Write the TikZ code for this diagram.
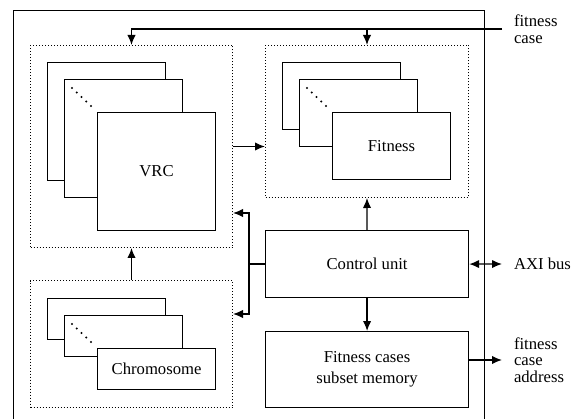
\documentclass[tikz,border=0pt]{standalone}
\usepackage{fontspec}
\setmainfont{Liberation Serif}
\usetikzlibrary{arrows.meta}

\begin{document}
\begin{tikzpicture}[
  x=0.6pt, y=-0.6pt,
  font=\fontsize{10}{12.5}\selectfont,
  card/.style={draw=black, fill=white, line width=0.7pt, anchor=north west, inner sep=0pt, minimum width=70.8pt},
  group/.style={draw=black, line width=0.6pt, dash pattern=on 0.6pt off 1.2pt, anchor=north west, inner sep=0pt, minimum width=121.2pt},
  unit/.style={draw=black, line width=0.7pt, anchor=north west, inner sep=0pt, minimum width=121.8pt, align=center},
  side/.style={anchor=west, inner sep=0pt, outer sep=7.2pt, align=left, font=\fontsize{10}{10}\selectfont},
  arr/.style={line width=0.75pt, -{Latex[length=6pt, width=5pt]}},
  biarr/.style={line width=0.75pt, {Latex[length=6pt, width=5pt]}-{Latex[length=6pt, width=5pt]}}
]
  \useasboundingbox (0,0) rectangle (584,419);

  % Outer frame (open at the bottom)
  \draw[line width=0.6pt] (13,419) -- (13,11) -- (484,11) -- (484,419);

  % Dotted groups
  \node[group, minimum height=121.2pt] (vrcgrp) at (30,45) {};
  \node[group, minimum width=121.8pt, minimum height=91.2pt] (fitgrp) at (265,45) {};
  \node[group, minimum height=76.2pt] (chrgrp) at (30,280) {};

  % VRC stack
  \node[card, minimum height=70.8pt] (vrcA) at (47,62) {};
  \node[card, minimum height=70.8pt] (vrcB) at (64,79) {};
  \node[card, minimum height=70.8pt] (vrcC) at (97,112) {VRC};

  % Fitness stack
  \node[card, minimum height=40.2pt] (fitA) at (282,62) {};
  \node[card, minimum height=40.2pt] (fitB) at (299,79) {};
  \node[card, minimum height=40.2pt] (fitC) at (332,112) {Fitness};

  % Chromosome stack
  \node[card, minimum height=24.6pt] (chrA) at (47,298) {};
  \node[card, minimum height=24.6pt] (chrB) at (64,315) {};
  \node[card, minimum height=24.6pt] (chrC) at (97,348) {Chromosome};

  % Ellipsis dots on the middle cards
  \foreach \s in {vrcB, fitB, chrB} {
    \foreach \k in {0,...,4} {
      \fill ([shift={(8+4.75*\k, 9+4.5*\k)}]\s.north west) circle (0.7pt);
    }
  }

  % Control unit and memory
  \node[unit, minimum height=40.2pt] (ctrl) at (265,230) {Control unit};
  \node[unit, minimum height=45.6pt] (mem) at (265,331) {Fitness cases\\subset memory};

  % Outside labels
  \node[side] (fcase) at (502,29) {fitness\\case};
  \node[side] (axi) at (502,264) {AXI bus};
  \node[side] (addr) at (502,360) {fitness\\case\\address};

  % Connections
  \coordinate (fctap) at (fcase.west -| fitgrp.north);
  \draw[arr] (fcase.west) -| (vrcgrp.north);
  \draw[arr] (fctap) -- (fitgrp.north);
  \draw[arr] (vrcgrp.east) -- (vrcgrp.east -| fitgrp.west);
  \draw[arr] (chrgrp.north) -- (vrcgrp.south);
  \draw[arr] (ctrl.north) -- (fitgrp.south);
  \draw[arr] (ctrl.south) -- (mem.north);

  \coordinate (tapA) at (249,213);
  \coordinate (tapB) at (249,314);
  \coordinate (tapM) at (ctrl.west -| tapA);
  \draw[line width=0.75pt] (ctrl.west) -- (tapM);
  \draw[arr] (tapM) |- (tapA -| vrcgrp.east);
  \draw[arr] (tapM) |- (tapB -| chrgrp.east);

  \draw[biarr] (ctrl.east) -- (axi.west);
  \coordinate (memout) at (mem.east |- addr.west);
  \draw[arr] (memout) -- (addr.west);
\end{tikzpicture}
\end{document}
